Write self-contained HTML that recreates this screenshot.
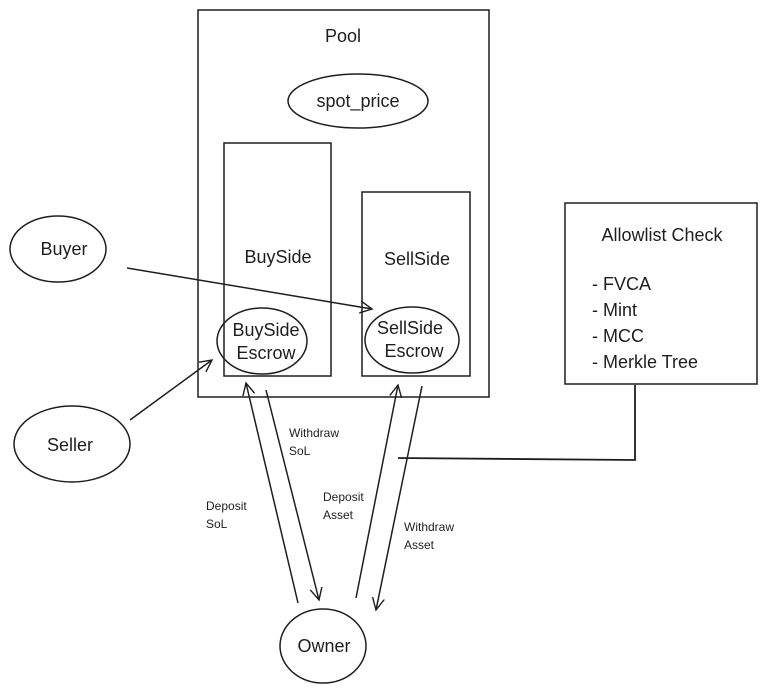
<!DOCTYPE html>
<html><head><style>
html,body{margin:0;padding:0;background:#fff;}
svg{display:block}
text{font-family:"Liberation Sans",sans-serif;fill:#1e1e1e}
</style></head><body>
<svg width="770" height="694" viewBox="0 0 770 694" xmlns="http://www.w3.org/2000/svg">
<defs>
<marker id="a" markerWidth="14" markerHeight="14" refX="12" refY="7" orient="auto" markerUnits="userSpaceOnUse">
<path d="M0,1 L12,7 L0,13" fill="none" stroke="#1e1e1e" stroke-width="1.4"/>
</marker>
</defs>
<g fill="none" stroke="#1e1e1e" stroke-width="1.5">
<rect x="198" y="10" width="291" height="387"/>
<rect x="224" y="143" width="107" height="233"/>
<rect x="362" y="192" width="108" height="184"/>
<ellipse cx="358" cy="101" rx="70" ry="27"/>
<ellipse cx="262" cy="341" rx="45" ry="33"/>
<ellipse cx="412" cy="340" rx="47" ry="33"/>
<ellipse cx="58" cy="249" rx="48" ry="33"/>
<ellipse cx="72" cy="444" rx="58" ry="38"/>
<ellipse cx="323" cy="646" rx="43" ry="37"/>
<rect x="565" y="203" width="192" height="181"/>
<path d="M635,385 L635,460 L398,458" stroke-width="1.8"/>
<line x1="127" y1="268" x2="372" y2="309" marker-end="url(#a)"/>
<line x1="130" y1="420" x2="212" y2="360" marker-end="url(#a)"/>
<line x1="298" y1="603" x2="246" y2="383" marker-end="url(#a)"/>
<line x1="266" y1="390" x2="319" y2="600" marker-end="url(#a)"/>
<line x1="356" y1="598" x2="398" y2="385" marker-end="url(#a)"/>
<line x1="422" y1="386" x2="376" y2="610" marker-end="url(#a)"/>
</g>
<g font-size="18" text-anchor="middle">
<text x="343" y="42">Pool</text>
<text x="358" y="107">spot_price</text>
<text x="278" y="263">BuySide</text>
<text x="417" y="265">SellSide</text>
<text x="266" y="336">BuySide</text>
<text x="266" y="359">Escrow</text>
<text x="410" y="334">SellSide</text>
<text x="414" y="357">Escrow</text>
<text x="64" y="255">Buyer</text>
<text x="70" y="451">Seller</text>
<text x="324" y="652">Owner</text>
<text x="662" y="241">Allowlist Check</text>
</g>
<g font-size="18">
<text x="592" y="290">- FVCA</text>
<text x="592" y="316">- Mint</text>
<text x="592" y="342">- MCC</text>
<text x="592" y="368">- Merkle Tree</text>
</g>
<g font-size="12">
<text x="289" y="437">Withdraw</text>
<text x="289" y="455">SoL</text>
<text x="206" y="510">Deposit</text>
<text x="206" y="528">SoL</text>
<text x="323" y="501">Deposit</text>
<text x="323" y="519">Asset</text>
<text x="404" y="531">Withdraw</text>
<text x="404" y="549">Asset</text>
</g>
</svg>
</body></html>
